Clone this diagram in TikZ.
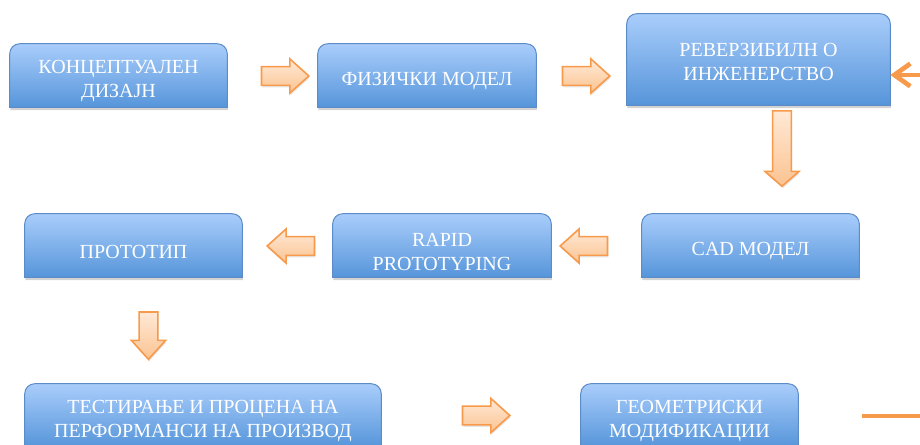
\documentclass[tikz,border=0pt]{standalone}
\usepackage{fontspec}
\setmainfont{Liberation Serif}
\usetikzlibrary{shapes.arrows,shadows,backgrounds,arrows.meta}
\definecolor{plavgore}{HTML}{A9CDFB}
\definecolor{plavdole}{HTML}{5695DA}
\definecolor{plavrab}{HTML}{5B8CC8}
\definecolor{portok}{HTML}{F79A4B}
\definecolor{praskagore}{HTML}{FFE9D6}
\definecolor{praskadole}{HTML}{FBC391}
\tikzset{
  blok/.style={text=white, align=center, inner sep=0pt, minimum height=47.25pt,
    yshift=-4.5pt, font=\fontsize{15pt}{18pt}\selectfont},
  strelka/.style={single arrow, draw=portok, line width=1.2pt, top color=praskagore,
    bottom color=praskadole, inner sep=0pt, inner ysep=6.4pt, minimum height=35.5pt,
    single arrow head extend=5.8pt, single arrow tip angle=84,
    drop shadow={opacity=0.2, shadow xshift=0.6pt, shadow yshift=-1.5pt}},
  nadolu/.style={shape border rotate=270, inner ysep=0pt, inner xsep=6.4pt},
}
\begin{document}
\begin{tikzpicture}[x=0.75pt, y=-0.75pt]
  \useasboundingbox (0,0) rectangle (920,445);

  % Prv red
  \node[blok, minimum width=162.75pt] (konc) at (118.5,75.5) {КОНЦЕПТУАЛЕН\\ДИЗАЈН};
  \node[blok, minimum width=163.5pt] (fiz) at (427,75.5) {ФИЗИЧКИ МОДЕЛ};
  \node[blok, minimum width=197.25pt, minimum height=68.25pt, yshift=3pt] (rev) at (758.5,59.5) {РЕВЕРЗИБИЛН О\\ИНЖЕНЕРСТВО};

  % Vtor red
  \node[blok, minimum width=162.75pt] (cad) at (750.5,245.5) {CAD МОДЕЛ};
  \node[blok, minimum width=163.5pt] (rapid) at (442,245.5) {RAPID\\PROTOTYPING};
  \node[blok, minimum width=162.75pt] (proto) at (133.5,245.5) {ПРОТОТИП};

  % Tret red
  \node[blok, minimum width=267pt] (test) at (203,415.5) {ТЕСТИРАЊЕ И ПРОЦЕНА НА\\ПЕРФОРМАНСИ НА ПРОИЗВОД};
  \node[blok, minimum width=162.75pt] (geom) at (689.5,415.5) {ГЕОМЕТРИСКИ\\МОДИФИКАЦИИ};

  % Kutii (samo gornite agli zaobleni)
  \begin{pgfonlayer}{background}
    \foreach \k/\d in {konc/4.5pt,fiz/4.5pt,rev/1.5pt,cad/4.5pt,rapid/4.5pt,proto/4.5pt,test/4.5pt,geom/4.5pt}
      \path[draw=plavrab, line width=0.75pt, top color=plavgore, bottom color=plavdole,
        drop shadow={opacity=0.35, shadow xshift=0.5pt, shadow yshift=-2.2pt}]
        ([yshift=\d]\k.south west) [rounded corners=7.5pt] -- ([yshift=\d]\k.north west)
        -- ([yshift=\d]\k.north east) [sharp corners] -- ([yshift=\d]\k.south east) -- cycle;
  \end{pgfonlayer}

  % Strelki
  \node[strelka] (s1) at (280,76) {};
  \node[strelka] (s2) at (581,76) {};
  \node[strelka, nadolu, minimum height=56.5pt, single arrow tip angle=98] (s3) at (782,144.5) {};
  \node[strelka, shape border rotate=180] (s4) at (296,246) {};
  \node[strelka, shape border rotate=180] (s5) at (589,246) {};
  \node[strelka, nadolu] (s6) at (148.5,330.5) {};
  \node[strelka] (s7) at (481,415.5) {};

  % Povratna vrska
  \coordinate (povrat) at (862,416);
  \draw[portok, line width=3.5pt, -{Straight Barb[length=12pt, width=17pt]}]
    (povrat) -- (940,416) |- ([yshift=-10.1pt]rev.east);
\end{tikzpicture}
\end{document}
